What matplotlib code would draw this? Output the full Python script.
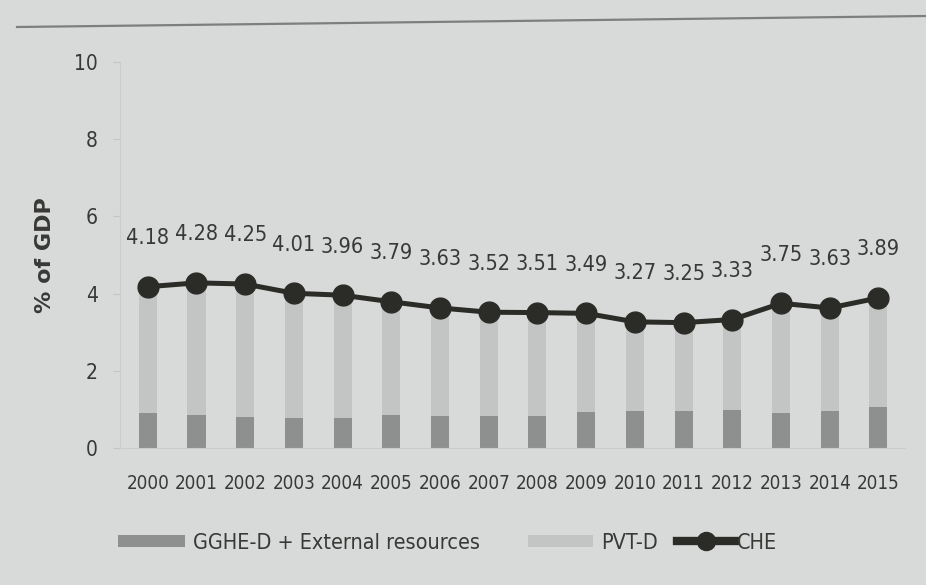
import matplotlib
matplotlib.use("Agg")
import matplotlib.pyplot as plt
from matplotlib.lines import Line2D
from matplotlib.patches import Patch
import numpy as np

years = ["2000", "2001", "2002", "2003", "2004", "2005", "2006", "2007",
         "2008", "2009", "2010", "2011", "2012", "2013", "2014", "2015"]
che = [4.18, 4.28, 4.25, 4.01, 3.96, 3.79, 3.63, 3.52, 3.51, 3.49,
       3.27, 3.25, 3.33, 3.75, 3.63, 3.89]
gghe_ext = [0.90, 0.85, 0.80, 0.78, 0.77, 0.85, 0.83, 0.82, 0.82, 0.93,
            0.95, 0.97, 1.00, 0.90, 0.95, 1.07]
pvt = [c - g for c, g in zip(che, gghe_ext)]
yticks = [0, 2, 4, 6, 8, 10]

BG = "#d8dad9"
DARK = "#8e908f"
LIGHT = "#c3c5c4"
LINE = "#2b2b27"
TXT = "#383836"

plt.rcParams["font.family"] = ["DejaVu Sans"]
plt.rcParams["font.stretch"] = "condensed"

fig = plt.figure(figsize=(9.26, 5.85), dpi=100, facecolor=BG)
ax = fig.add_axes([0.1296, 0.234, 0.848, 0.66])
ax.set_facecolor(BG)

x = np.arange(len(years))
w = 0.37
ax.bar(x, gghe_ext, width=w, color=DARK, zorder=2)
ax.bar(x, pvt, width=w, bottom=gghe_ext, color=LIGHT, zorder=2)
ax.plot(x, che, color=LINE, lw=3.6, marker="o", ms=15, mfc=LINE, mec=LINE, zorder=3)

for xi, v in zip(x, che):
    ax.annotate(f"{v:.2f}", (xi, v), xytext=(0, 35), textcoords="offset points",
                ha="center", va="center", fontsize=15.5, color=TXT, fontstretch="condensed")

ax.set_xlim(-0.57, 15.55)
ax.set_ylim(0, 10)
ax.set_yticks(yticks)
ax.set_yticklabels([str(t) for t in yticks], fontsize=15, color=TXT)
ax.set_xticks(x)
ax.set_xticklabels(years, fontsize=13.5, color=TXT)
ax.tick_params(axis="x", length=0, pad=19)
ax.tick_params(axis="y", length=5, color="#c4c6c5", pad=11)
for s in ["top", "right"]:
    ax.spines[s].set_visible(False)
ax.spines["left"].set_color("#cbcdcc")
ax.spines["bottom"].set_color("#cbcdcc")
ax.set_ylabel("% of GDP", fontsize=16, fontweight="bold", color=TXT,
              fontstretch="normal", labelpad=14)

# top rule
fig.add_artist(Line2D([17 / 926, 1.0], [1 - 27 / 585, 1 - 16 / 585], transform=fig.transFigure,
                      color="#7d7e7d", lw=1.6))

leg_y = 1 - 543 / 585
common = dict(loc="center left", frameon=False, fontsize=15.5, borderpad=0,
              borderaxespad=0, labelcolor=TXT)
l1 = fig.legend([Patch(facecolor=DARK, edgecolor="none")], ["GGHE-D + External resources"],
                bbox_to_anchor=(118 / 926, leg_y), handlelength=3.1, handleheight=0.5,
                handletextpad=0.4, **common)
l2 = fig.legend([Patch(facecolor=LIGHT, edgecolor="none")], ["PVT-D"],
                bbox_to_anchor=(528 / 926, leg_y), handlelength=3.0, handleheight=0.5,
                handletextpad=0.4, **common)
l3 = fig.legend([Line2D([0], [0], color=LINE, lw=6, marker="o", ms=13)], ["CHE"],
                bbox_to_anchor=(677 / 926, leg_y), handlelength=2.7, handletextpad=0.1, **common)

fig.savefig("out.png", dpi=100, facecolor=BG)
